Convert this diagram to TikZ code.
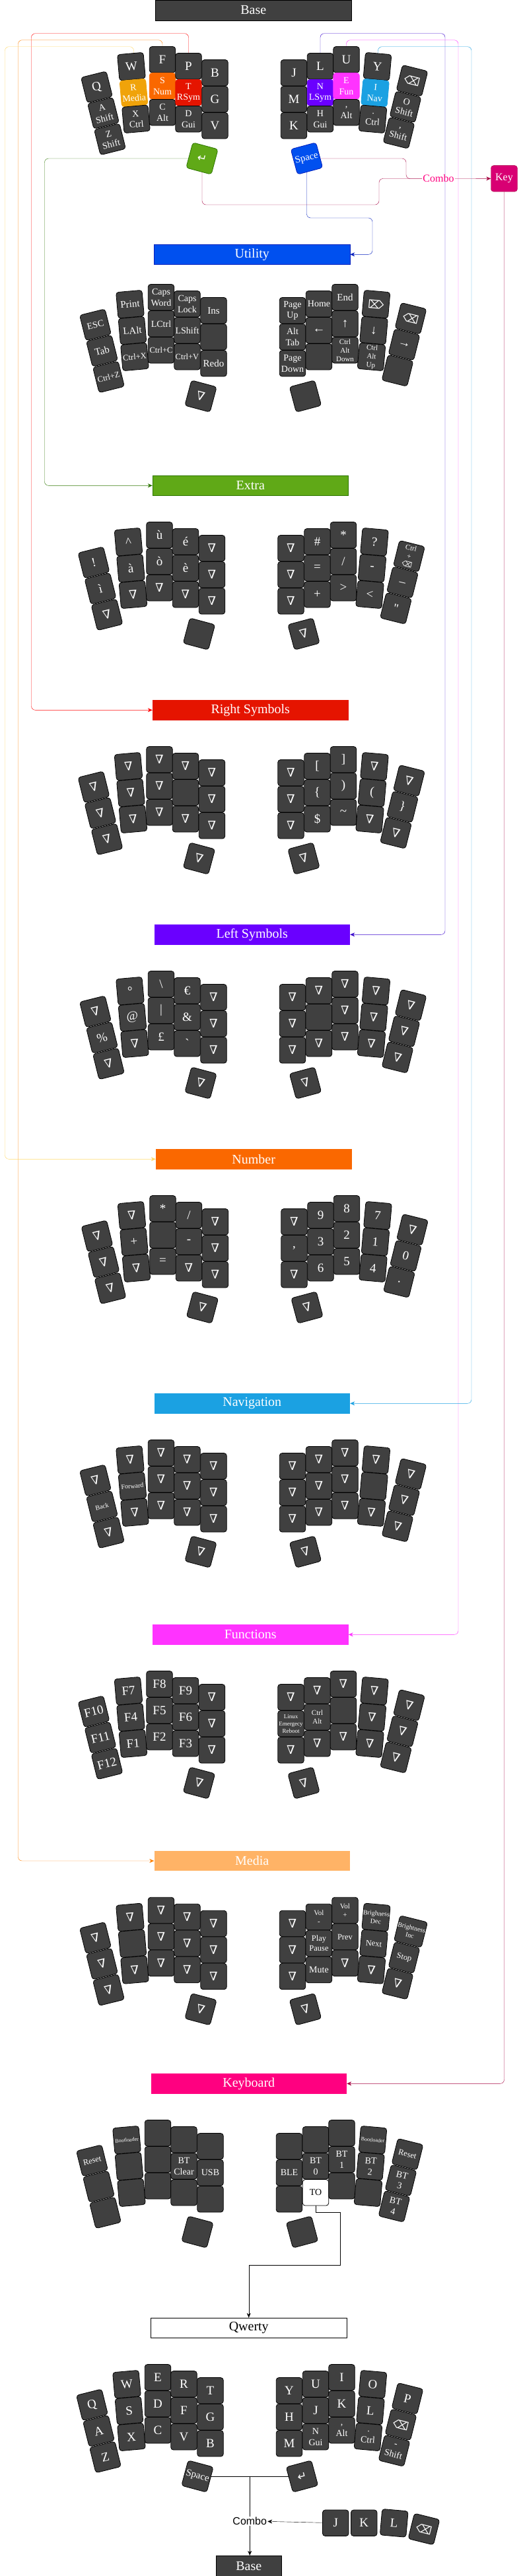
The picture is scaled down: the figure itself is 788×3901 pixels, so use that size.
\documentclass[tikz,border=0pt]{standalone}
\usepackage{fontspec}
\setmainfont{Liberation Serif}
\newfontfamily\symfont{DejaVu Sans}
\newfontfamily\nabfont{DejaVu Serif}
\newfontfamily\combofont{Liberation Sans}
\usetikzlibrary{arrows.meta,backgrounds}
\definecolor{kgray}{HTML}{404040}
\definecolor{cAmber}{HTML}{F0A30A}
\definecolor{cOrange}{HTML}{FA6800}
\definecolor{cRed}{HTML}{E51400}
\definecolor{cViolet}{HTML}{6A00FF}
\definecolor{cPink}{HTML}{FF33FF}
\definecolor{cCyan}{HTML}{1BA1E2}
\definecolor{cGreen}{HTML}{60A917}
\definecolor{cCobalt}{HTML}{0050EF}
\definecolor{cMagenta}{HTML}{D80073}
\definecolor{cRose}{HTML}{FF0080}
\definecolor{cPeach}{HTML}{FFB366}
\definecolor{lRed}{HTML}{FF0000}
\definecolor{lOrange}{HTML}{FF8000}
\definecolor{lYellow}{HTML}{FFD966}
\definecolor{lGreen}{HTML}{2D7600}
\definecolor{lViolet}{HTML}{3700CC}
\definecolor{lCobalt}{HTML}{001DBC}
\definecolor{lCrimson}{HTML}{A50040}
\newcommand\bksp{{\symfont ⌫}}

% key centres of one half, relative to the top key of the inner column
\def\kxL{{-179,-169,-159,-126.5,-123,-119.5,-79.5,-79.5,-79.5,-40,-40,-40,0,0,0,-19.5}}
\def\kyL{{21.5,61,100.5,-9.6,30.2,70,-20,20,60,-10,30,70,0,40,80,129.7}}
\def\krL{{14,14,14,5,5,5,0,0,0,0,0,0,0,0,0,-15}}
\def\kxR{{119.5,119.5,119.5,159.5,159.5,159.5,199,199,199,246,242.5,239,298.5,288.5,278.5,139}}
\def\kyR{{0,40,80,-10,30,70,-20,20,60,-9.6,30.2,70,12,51.5,91,129.7}}
\def\krR{{0,0,0,0,0,0,0,0,0,-5,-5,-5,-14,-14,-14,15}}

\newcommand\keyhalf[5]{%
  \expandafter\let\expandafter\curX\csname kx#2\endcsname
  \expandafter\let\expandafter\curY\csname ky#2\endcsname
  \expandafter\let\expandafter\curR\csname kr#2\endcsname
  \foreach \sty/\lbl [count=\i from 0] in {#5} {
    \pgfmathsetmacro\kdx{\curX[\i]}
    \pgfmathsetmacro\kdy{\curY[\i]}
    \pgfmathsetmacro\kr{\curR[\i]}
    \pgfmathsetmacro\kx{#3+\kdx}
    \pgfmathsetmacro\ky{#4+\kdy}
    \node[\sty,rotate=\kr] (#1#2\i) at (\kx,\ky) {\lbl};
  }%
}

\begin{document}
\begin{tikzpicture}[x=1pt,y=-1pt,
    >={Stealth[length=7pt,width=6pt]},
    kbase/.style={draw=black,fill=kgray,rounded corners=4pt,minimum width=39.5pt,minimum height=39.5pt,inner sep=0pt,text=white,align=center,line width=0.8pt},
    kA/.style={kbase,font=\fontsize{19}{21}\selectfont},
    kB/.style={kbase,font=\fontsize{15}{17}\selectfont},
    kC/.style={kbase,font=\fontsize{14}{16.5}\selectfont},
    kW/.style={kbase,font=\fontsize{12.5}{15}\selectfont},
    kD/.style={kbase,font=\fontsize{11}{13}\selectfont},
    kE/.style={kbase,font=\fontsize{10}{12}\selectfont},
    kF/.style={kbase,font=\fontsize{9}{11}\selectfont},
    kG/.style={kbase,font=\fontsize{8}{10}\selectfont},
    kN/.style={kbase,font=\nabfont\fontsize{18}{18}\selectfont},
    kS/.style={kbase,font=\symfont\fontsize{17}{17}\selectfont},
    kMedia/.style={kC,fill=cAmber,draw=cAmber},
    kNum/.style={kC,fill=cOrange,draw=cOrange},
    kRsym/.style={kC,fill=cRed,draw=cRed},
    kLsym/.style={kC,fill=cViolet,draw=cViolet},
    kFun/.style={kC,fill=cPink,draw=cPink},
    kNav/.style={kC,fill=cCyan,draw=cCyan},
    kEnter/.style={kS,fill=cGreen,draw=lGreen},
    kSpace/.style={kB,fill=cCobalt,draw=lCobalt},
    kTO/.style={kC,fill=white,text=black},
    titlebox/.style={minimum width=296.5pt,minimum height=30.7pt,inner sep=0pt,text=white,font=\fontsize{20}{22}\selectfont}
  ]
  \useasboundingbox (0,0) rectangle (788,3901);

  \node[titlebox,fill=kgray,draw=black] (base) at (383.75,15.5) {Base};
  \node[titlebox,fill=cCobalt,draw=lCobalt] (util) at (381.75,385.3) {Utility};
  \node[titlebox,fill=cGreen,draw=lGreen] (extra) at (379.25,735.3) {Extra};
  \node[titlebox,fill=cRed] (rsym) at (379.25,1075.3) {Right Symbols};
  \node[titlebox,fill=cViolet] (lsym) at (381.75,1415.3) {Left Symbols};
  \node[titlebox,fill=cOrange] (num) at (384.25,1755.3) {Number};
  \node[titlebox,fill=cCyan] (nav) at (381.75,2125.3) {Navigation};
  \node[titlebox,fill=cPink] (func) at (379.25,2475.3) {Functions};
  \node[titlebox,fill=cPeach] (media) at (381.75,2818) {Media};
  \node[titlebox,fill=cRose] (kbd) at (376.75,3155.3) {Keyboard};
  \node[titlebox,draw=black,text=black] (qwt) at (376.75,3525.3) {Qwerty};

  \keyhalf{b}{L}{325.5}{110.3}{kA/Q, kC/{A\\Shift}, kC/{Z\\Shift}, kA/W, kMedia/{R\\Media}, kC/{X\\Ctrl}, kA/F, kNum/{S\\Num}, kC/{C\\Alt}, kA/P, kRsym/{T\\RSym}, kC/{D\\Gui}, kA/B, kA/G, kA/V, kEnter/↵}
  \keyhalf{b}{R}{325.5}{110.3}{kA/J, kA/M, kA/K, kA/L, kLsym/{N\\LSym}, kC/{H\\Gui}, kA/U, kFun/{E\\Fun}, kC/{,\\Alt}, kA/Y, kNav/{I\\Nav}, kC/{.\\Ctrl}, kS/⌫, kC/{O\\Shift}, kC/{,\\Shift}, kSpace/Space}
  \node[font=\fontsize{16}{18}\selectfont,text=cRose,inner sep=1pt] (combo) at (664,270.5) {Combo};
  \node[fill=cMagenta,draw=lCrimson,rounded corners=4pt,minimum width=40pt,minimum height=39.5pt,inner sep=0pt,text=white,font=\fontsize{16}{18}\selectfont] (key) at (763.5,270.4) {Key};

  \keyhalf{u}{L}{323.5}{470.3}{kC/ESC, kB/Tab, kW/{Ctrl+Z}, kB/Print, kB/LAlt, kW/{Ctrl+X}, kC/{Caps\\Word}, kC/LCtrl, kW/{Ctrl+C}, kC/{Caps\\Lock}, kC/LShift, kW/{Ctrl+V}, kB/Ins, kA/{}, kB/Redo, kN/∇}
  \keyhalf{u}{R}{323.5}{470.3}{kC/{Page\\Up}, kC/{Alt\\Tab}, kC/{Page\\Down}, kC/Home, kA/←, kA/{}, kB/End, kA/↑, kD/{Ctrl\\Alt\\Down}, kS/⌦, kA/↓, kD/{Ctrl\\Alt\\Up}, kS/⌫, kA/→, kA/{}, kA/{}}

  \keyhalf{e}{L}{321}{830.3}{kA/!, kA/ì, kN/∇, kA/\textasciicircum, kA/à, kN/∇, kA/ù, kA/ò, kN/∇, kA/é, kA/è, kN/∇, kN/∇, kN/∇, kN/∇, kA/{}}
  \keyhalf{e}{R}{321}{830.3}{kN/∇, kN/∇, kN/∇, kA/\#, kA/=, kA/+, kA/*, kA/{/}, kA/>, kA/?, kA/-, kA/<, kD/{Ctrl\\+\\\bksp}, kA/\_, kA/\textquotedbl, kN/∇}

  \keyhalf{r}{L}{321}{1170.3}{kN/∇, kN/∇, kN/∇, kN/∇, kN/∇, kN/∇, kN/∇, kN/∇, kN/∇, kN/∇, kA/{}, kN/∇, kN/∇, kN/∇, kN/∇, kN/∇}
  \keyhalf{r}{R}{321}{1170.3}{kN/∇, kN/∇, kN/∇, kA/{[}, kA/\{, kA/\$, kA/{]}, kA/{)}, kA/\textasciitilde, kN/∇, kA/{(}, kN/∇, kN/∇, kA/\}, kN/∇, kN/∇}

  \keyhalf{l}{L}{323.5}{1510.3}{kN/∇, kA/\%, kN/∇, kA/°, kA/@, kN/∇, kA/\textbackslash, kA/|, kA/£, kA/€, kA/\&, kA/\textasciigrave, kN/∇, kN/∇, kN/∇, kN/∇}
  \keyhalf{l}{R}{323.5}{1510.3}{kN/∇, kN/∇, kN/∇, kN/∇, kA/{}, kN/∇, kN/∇, kN/∇, kN/∇, kN/∇, kN/∇, kN/∇, kN/∇, kN/∇, kN/∇, kN/∇}

  \keyhalf{n}{L}{326}{1850.3}{kN/∇, kN/∇, kN/∇, kN/∇, kA/+, kN/∇, kA/*, kA/{}, kA/=, kA/{/}, kA/-, kN/∇, kN/∇, kN/∇, kN/∇, kN/∇}
  \keyhalf{n}{R}{326}{1850.3}{kN/∇, kA/{,}, kN/∇, kA/9, kA/3, kA/6, kA/8, kA/2, kA/5, kA/7, kA/1, kA/4, kN/∇, kA/0, kA/., kN/∇}

  \keyhalf{v}{L}{323.5}{2220.3}{kN/∇, kE/Back, kN/∇, kN/∇, kE/Forward, kN/∇, kN/∇, kN/∇, kN/∇, kN/∇, kN/∇, kN/∇, kN/∇, kN/∇, kN/∇, kN/∇}
  \keyhalf{v}{R}{323.5}{2220.3}{kN/∇, kN/∇, kN/∇, kN/∇, kN/∇, kN/∇, kN/∇, kN/∇, kN/∇, kN/∇, kA/{}, kN/∇, kN/∇, kN/∇, kN/∇, kN/∇}

  \keyhalf{f}{L}{321}{2570.3}{kA/F10, kA/F11, kA/F12, kA/F7, kA/F4, kA/F1, kA/F8, kA/F5, kA/F2, kA/F9, kA/F6, kA/F3, kN/∇, kN/∇, kN/∇, kN/∇}
  \keyhalf{f}{R}{321}{2570.3}{kN/∇, kF/{Linux\\Emergecy\\Reboot}, kN/∇, kN/∇, kD/{Ctrl\\Alt}, kN/∇, kN/∇, kA/{}, kN/∇, kN/∇, kN/∇, kN/∇, kN/∇, kN/∇, kN/∇, kN/∇}

  \keyhalf{m}{L}{323.5}{2913}{kN/∇, kN/∇, kN/∇, kN/∇, kA/{}, kN/∇, kN/∇, kN/∇, kN/∇, kN/∇, kN/∇, kN/∇, kN/∇, kN/∇, kN/∇, kN/∇}
  \keyhalf{m}{R}{323.5}{2913}{kN/∇, kN/∇, kN/∇, kD/{Vol\\-}, kW/{Play\\Pause}, kC/Mute, kD/{Vol\\+}, kW/Prev, kN/∇, kE/{Brighness\\Dec}, kW/Next, kN/∇, kE/{Brightness\\Inc}, kW/Stop, kN/∇, kN/∇}

  \keyhalf{k}{L}{318.5}{3250.3}{kW/Reset, kA/{}, kA/{}, kG/Bootloader, kA/{}, kA/{}, kA/{}, kA/{}, kA/{}, kA/{}, kC/{BT\\Clear}, kA/{}, kA/{}, kC/USB, kA/{}, kA/{}}
  \keyhalf{k}{R}{318.5}{3250.3}{kA/{}, kC/BLE, kA/{}, kA/{}, kC/{BT\\0}, kTO/TO, kA/{}, kC/{BT\\1}, kA/{}, kG/Bootloader, kC/{BT\\2}, kA/{}, kW/Reset, kC/{BT\\3}, kC/{BT\\4}, kA/{}}

  \keyhalf{q}{L}{318.5}{3620.3}{kA/Q, kA/A, kA/Z, kA/W, kA/S, kA/X, kA/E, kA/D, kA/C, kA/R, kA/F, kA/V, kA/T, kA/G, kA/B, kB/Space}
  \keyhalf{q}{R}{318.5}{3620.3}{kA/Y, kA/H, kA/M, kA/U, kA/J, kC/{N\\Gui}, kA/I, kA/K, kC/{,\\Alt}, kA/O, kA/L, kC/{.\\Ctrl}, kA/P, kS/⌫, kC/{-\\Shift}, kS/↵}
  \path (qL15.center) -- (qR15.center) coordinate[midway] (qmid);
  \node[font=\combofont\fontsize{16}{18}\selectfont,inner sep=1pt] (qcombo) at (378.25,3817.7) {Combo};
  \node[kA] (cJ) at (508.25,3820.7) {J};
  \node[kA] (cK) at (551.25,3820.7) {K};
  \node[kA,rotate=-5] (cL) at (596.75,3820.8) {L};
  \node[kS,rotate=-14] (cBk) at (642,3830) {⌫};
  \node[fill=kgray,draw=black,minimum width=99.5pt,minimum height=31pt,inner sep=0pt,text=white,font=\fontsize{20}{22}\selectfont] (qbase) at (376.75,3885.5) {Base};

  \begin{scope}[on background layer,rounded corners=6pt,line width=1.2pt]
    \fill[white,sharp corners] (0,0) rectangle (788,3901);
    \draw[lRed,->] (bL10.center) |- (47.5,50.7) |- (rsym.west);
    \draw[lOrange,->] (bL7.center) |- (27.5,60.7) |- (media.west);
    \draw[lYellow,->] (bL4.center) |- (7.5,70.7) |- (num.west);
    \draw[lGreen,->] (bL15.center) -| (67.5,300) |- (extra.west);
    \draw[lViolet,->] (bR4.center) |- (674,50.7) |- (lsym.east);
    \draw[cPink,->] (bR7.center) |- (694,60.7) |- (func.east);
    \draw[cCyan,->] ([xshift=4.5pt]bR10.center) |- (714,70.7) |- (nav.east);
    \draw[lCobalt,->] (bR15.center) |- (564,330) |- (util.east);
    \draw[lCrimson] (bR15.center) -| (615,270.5) -- (combo.west);
    \draw[lCrimson] (bL15.center) |- (574,310) |- (combo.west);
    \draw[lCrimson,->] (combo) -- (key);
    \draw[lCrimson,->] (key.south) |- (kbd.east);
    \draw[sharp corners,->] (kR5.center) |- (515,3350) |- (376.75,3430) -- (qwt.north);
    \draw[sharp corners] (qL15.center) -- (qR15.center);
    \draw (qmid) -- (qcombo);
    \draw[->] (qcombo) -- (qcombo |- qbase.north);
    \draw[->] (cJ) -- (qcombo);
  \end{scope}
\end{tikzpicture}
\end{document}
